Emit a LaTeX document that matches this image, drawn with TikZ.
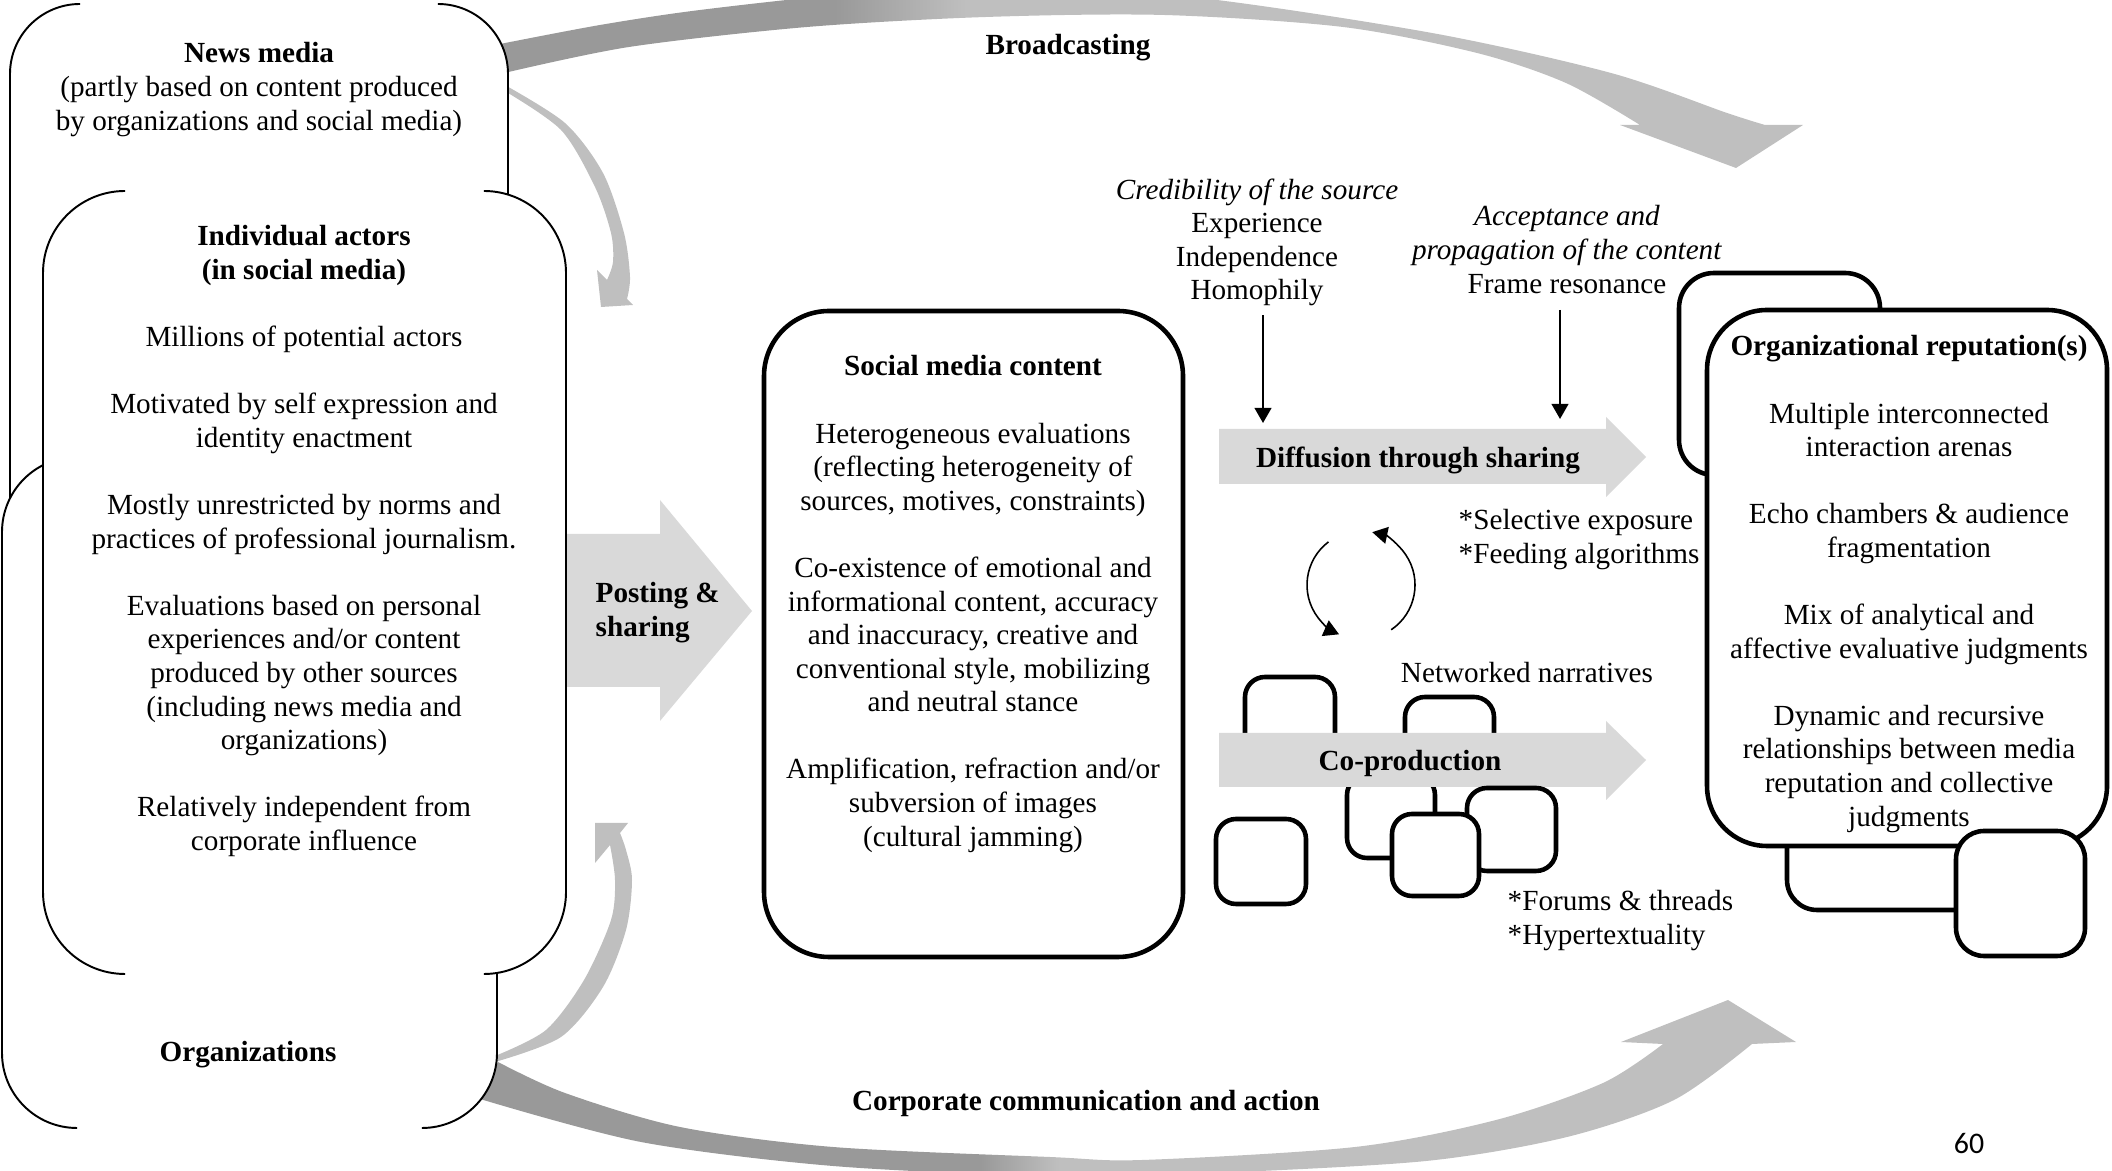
\documentclass[tikz,border=0pt]{standalone}
\usepackage{fontspec}
\setmainfont{Liberation Serif}
\newfontfamily\pagefont{Carlito}
\usetikzlibrary{arrows.meta}
\definecolor{banddark}{HTML}{999999}
\definecolor{bandlight}{HTML}{BFBFBF}
\definecolor{blockgray}{HTML}{D9D9D9}
\pgfdeclarehorizontalshading{bcastshade}{100bp}{color(0bp)=(banddark); color(38bp)=(banddark); color(43bp)=(bandlight); color(100bp)=(bandlight)}
\pgfdeclarehorizontalshading{corpshade}{100bp}{color(0bp)=(banddark); color(44bp)=(banddark); color(47bp)=(bandlight); color(100bp)=(bandlight)}
\newcommand\lgap{\\[9.55pt]}

\begin{document}
\begin{tikzpicture}[x=0.01cm,y=-0.01cm,
  txt/.style={font=\fontsize{8.3}{9.55}\selectfont,align=center,inner sep=0pt},
  bracket/.style={line width=0.55pt},
  thickbox/.style={line width=1.3pt,fill=white},
  tri/.style={-{Triangle[width=4.8pt,length=4.3pt]},line width=0.45pt}]
\useasboundingbox (0,0) rectangle (2112,1171);
\clip (0,0) rectangle (2112,1171);

%%%%% big curved bands:
\shade[shading=bcastshade] plot[smooth] coordinates {(495,45) (600,25) (700,10) (850,-6) (1000,-12) (1191,-3) (1432,33) (1611,73) (1727,113) (1765,125)}
  -- (1803,125) -- (1736,168) -- (1620,125)
  -- plot[smooth] coordinates {(1640,125) (1566,83) (1477,53) (1343,27) (1164,15) (986,17) (807,27) (629,47) (500,74)} -- cycle;
\shade[shading=corpshade] plot[smooth] coordinates {(480,1099) (641,1142) (833,1166) (1050,1176) (1213,1173) (1426,1161) (1567,1137) (1674,1100) (1752,1044)}
  -- (1796,1042) -- (1728,1000) -- (1621,1042)
  -- plot[smooth] coordinates {(1663,1044) (1603,1083) (1496,1120) (1355,1147) (1142,1160) (1050,1157) (833,1147) (680,1127) (565,1093) (498,1062)} -- cycle;
% small curved arrows
\fill[bandlight] plot[smooth] coordinates {(503,84) (565,123) (603,173) (624,233) (630,277) (627,299)}
  -- (633,305) -- (601,307) -- (597,270)
  -- plot[smooth] coordinates {(607,280) (613,262) (611,233) (595,187) (561,130) (503,90)} -- cycle;
\fill[bandlight] plot[smooth] coordinates {(495,1062) (561,1037) (603,987) (626,930) (632,880) (626,850) (620,833)}
  -- (628,823) -- (595,823) -- (595,863)
  -- plot[smooth] coordinates {(610,845) (615,880) (611,920) (584,980) (546,1030) (495,1056)} -- cycle;

% posting arrow
\fill[blockgray] (540,534) -- (660,534) -- (660,500) -- (752,611) -- (660,721) -- (660,687) -- (540,687) -- cycle;

%%%%% left brackets: news media, organizations, individual actors
\fill[white,rounded corners=0.7cm] (10,4) rectangle (508,600);
\draw[bracket,rounded corners=0.7cm] (80,4) -- (10,4) -- (10,600) -- (80,600);
\draw[bracket,rounded corners=0.7cm] (438,4) -- (508,4) -- (508,600) -- (438,600);
\fill[white,rounded corners=0.75cm] (2,457) rectangle (497,1128);
\draw[bracket,rounded corners=0.75cm] (77,457) -- (2,457) -- (2,1128) -- (77,1128);
\draw[bracket,rounded corners=0.75cm] (422,457) -- (497,457) -- (497,1128) -- (422,1128);
\fill[white,rounded corners=0.82cm] (43,191) rectangle (566,974);
\draw[bracket,rounded corners=0.82cm] (125,191) -- (43,191) -- (43,974) -- (125,974);
\draw[bracket,rounded corners=0.82cm] (484,191) -- (566,191) -- (566,974) -- (484,974);

\node[txt,anchor=north] (newsmedia) at (259,42) {\textbf{News media}\\(partly based on content produced\\by organizations and social media)};
\node[txt,anchor=north] (actors) at (304,225) {\textbf{Individual actors}\\\textbf{(in social media)}\lgap
  Millions of potential actors\lgap
  Motivated by self expression and\\identity enactment\lgap
  Mostly unrestricted by norms and\\practices of professional journalism.\lgap
  Evaluations based on personal\\experiences and/or content\\produced by other sources\\(including news media and\\organizations)\lgap
  Relatively independent from\\corporate influence};
\node[txt] (orgs) at (248,1055) {\textbf{Organizations}};
\node[txt,align=left,anchor=north west] (posting) at (595,582) {\textbf{Posting \&}\\\textbf{sharing}};

%%%%% social media content
\draw[thickbox,rounded corners=0.65cm] (764,311) rectangle (1183,957);
\node[txt,anchor=north] (content) at (973,355) {\textbf{Social media content}\lgap
  Heterogeneous evaluations\\(reflecting heterogeneity of\\sources, motives, constraints)\lgap
  Co-existence of emotional and\\informational content, accuracy\\and inaccuracy, creative and\\conventional style, mobilizing\\and neutral stance\lgap
  Amplification, refraction and/or\\subversion of images\\(cultural jamming)};

%%%%% diffusion
\fill[blockgray] (1219,429) -- (1606,429) -- (1606,417) -- (1646,457) -- (1606,497) -- (1606,484) -- (1219,484) -- cycle;
\node[txt] (diffusion) at (1418,460) {\textbf{Diffusion through sharing}};
\node[txt,anchor=north] (credibility) at (1257,178) {\textit{Credibility of the source}\\Experience\\Independence\\Homophily};
\node[txt,anchor=north] (acceptance) at (1567,205) {\textit{Acceptance and}\\\textit{propagation of the content}\\Frame resonance};
\coordinate (credtip) at (1263,423);
\coordinate (acctip) at (1560,419);
\draw[tri,shorten <=2.3pt] (credibility.south -| credtip) -- (credtip);
\draw[tri,shorten <=4.5pt] (acceptance.south -| acctip) -- (acctip);
\node[txt,align=left,anchor=north west] (exposure) at (1458,509) {*Selective exposure\\*Feeding algorithms};

% cycle
\draw[tri] (1361,585) ++(233:54) arc[start angle=233,end angle=114,radius=54];
\draw[tri] (1361,585) ++(56:54) arc[start angle=56,end angle=-78,radius=54];

%%%%% co-production
\draw[thickbox,rounded corners=0.2cm] (1245,677) rectangle (1335,767);
\draw[thickbox,rounded corners=0.2cm] (1216,819) rectangle (1306,904);
\draw[thickbox,rounded corners=0.2cm] (1405,697) rectangle (1494,782);
\draw[thickbox,rounded corners=0.2cm] (1347,775) rectangle (1435,858);
\fill[blockgray] (1219,733) -- (1606,733) -- (1606,721) -- (1646,760) -- (1606,800) -- (1606,787) -- (1219,787) -- cycle;
\draw[thickbox,rounded corners=0.2cm] (1467,788) rectangle (1556,871);
\draw[thickbox,rounded corners=0.2cm] (1392,814) rectangle (1479,896);
\node[txt] (coprod) at (1410,763) {\textbf{Co-production}};
\node[txt] (narratives) at (1527,673) {Networked narratives};
\node[txt,align=left,anchor=north west] (forums) at (1507,890) {*Forums \& threads\\*Hypertextuality};

%%%%% organizational reputation(s)
\draw[thickbox,rounded corners=0.35cm] (1679,273) rectangle (1880,475);
\draw[thickbox,rounded corners=0.3cm] (1787,700) rectangle (2000,910);
\draw[thickbox,rounded corners=0.6cm] (1707,310) rectangle (2107,846);
\draw[thickbox,rounded corners=0.28cm] (1956,831) rectangle (2085,956);
\node[txt,anchor=north] (reputation) at (1909,335) {\textbf{Organizational reputation(s)}\lgap
  Multiple interconnected\\interaction arenas\lgap
  Echo chambers \& audience\\fragmentation\lgap
  Mix of analytical and\\affective evaluative judgments\lgap
  Dynamic and recursive\\relationships between media\\reputation and collective\\judgments};

\node[txt] (broadcast) at (1068,48) {\textbf{Broadcasting}};
\node[txt] (corporate) at (1086,1103) {\textbf{Corporate communication and action}};
\node[txt,font=\pagefont\fontsize{8.5}{10}\selectfont] (pagenum) at (1969,1144) {60};
\end{tikzpicture}
\end{document}
